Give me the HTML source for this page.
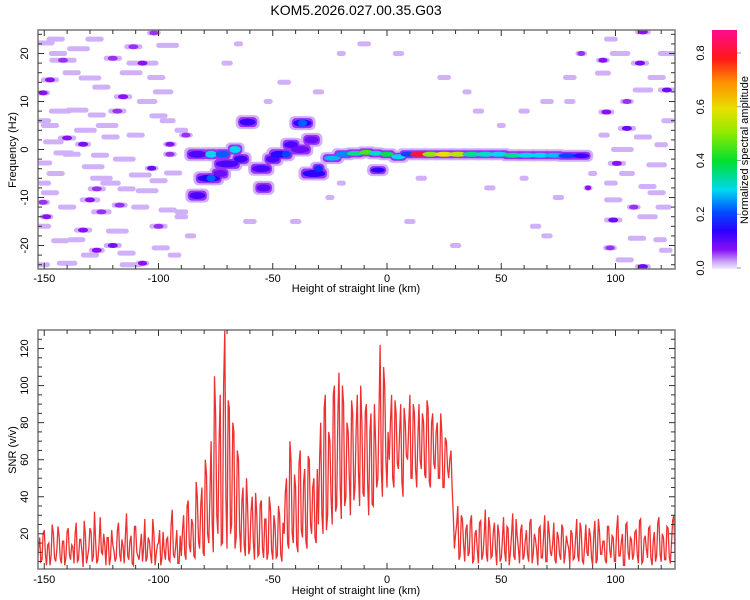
<!DOCTYPE html>
<html><head><meta charset="utf-8"><style>
html,body{margin:0;padding:0;background:#fff;}
svg{display:block;font-family:"Liberation Sans",sans-serif;}
</style></head><body>
<svg id="c" width="750" height="600" viewBox="0 0 750 600">
<defs>
<linearGradient id="cbg" x1="0" y1="1" x2="0" y2="0">
<stop offset="0" stop-color="#f2eafd"/><stop offset="0.03" stop-color="#c9a6f7"/><stop offset="0.08" stop-color="#8a10f6"/>
<stop offset="0.16" stop-color="#2a00ff"/><stop offset="0.24" stop-color="#0050ff"/><stop offset="0.33" stop-color="#00d8f0"/>
<stop offset="0.45" stop-color="#00e030"/><stop offset="0.57" stop-color="#90ea00"/><stop offset="0.67" stop-color="#e8e000"/>
<stop offset="0.78" stop-color="#ff9000"/><stop offset="0.88" stop-color="#ff1818"/><stop offset="1" stop-color="#ff0a90"/>
</linearGradient>
</defs>
<text x="356" y="15" text-anchor="middle" font-size="14">KOM5.2026.027.00.35.G03</text>
<g id="heat"></g>
<g id="snr"></g>
<g id="axes"></g>
<rect x="712" y="30" width="25" height="239" fill="url(#cbg)"/>
<text transform="translate(748,150) rotate(-90)" text-anchor="middle" font-size="11">Normalized spectral amplitude</text>
<text x="356" y="292" text-anchor="middle" font-size="11">Height of straight line (km)</text>
<text x="356" y="594" text-anchor="middle" font-size="11">Height of straight line (km)</text>
<text transform="translate(16,150) rotate(-90)" text-anchor="middle" font-size="11">Frequency (Hz)</text>
<text transform="translate(16,450) rotate(-90)" text-anchor="middle" font-size="11">SNR (v/v)</text>
</svg>
<script>
// ---- data ----
const xTicks = [-150,-100,-50,0,50,100];
const freqTicks = [-20,-10,0,10,20];
const snrTicks = [20,40,60,80,100,120];
const cbTicks = [0.0,0.2,0.4,0.6,0.8];
const snrStartKm = -153;
const snrStepKm = 1;
// samples at whole km
const snrValues = [4,18,6,22,3,15,8,20,5,24,7,16,3,21,9,14,4,26,6,17,2,19,8,23,5,32,4,15,10,20,3,18,7,14,5,22,9,17,4,31,6,19,3,24,8,13,5,28,7,16,4,20,9,15,3,21,6,18,5,33,7,22,4,
8,30,6,38,10,25,7,40,12,45,8,52,15,
70,10,85,20,95,15,130,12,88,25,75,18,60,
10,45,8,35,12,40,6,30,9,38,7,28,10,33,6,25,8,30,5,
20,50,12,60,15,45,10,65,18,55,12,60,20,50,15,
25,80,20,95,30,70,25,100,35,107,28,90,40,75,30,85,45,95,35,80,40,90,30,85,35,70,
50,122,40,100,45,
60,95,45,85,55,90,40,80,60,95,50,85,45,90,55,80,50,88,45,85,55,80,50,75,45,70,50,65,
30,20,35,8,28,5,25,10,30,6,22,4,27,9,33,5,24,8,26,3,20,7,29,5,23,10,31,6,19,4,25,8,22,5,28,9,17,3,24,7,30,5,21,8,26,4,18,6,23,9,15,3,20,7,28,5,22,4,25,8,19,3,27,6,21,9,16,4,24,7,18,5,30,8,20,3,26,6,17,9,22,4,28,5,19,7,24,3,21,8,29,5,18,6,23,4,27,10];
// samples at half km
const snrValuesHalf = [12,5,20,9,14,3,25,7,11,19,4,16,8,23,6,13,20,5,17,10,27,4,12,21,8,15,6,29,9,14,18,3,22,11,7,26,5,13,19,8,16,4,24,10,6,20,12,5,18,9,28,3,14,22,7,11,17,6,25,9,13,4,19,
22,9,35,14,28,8,48,16,36,10,60,20,40,
25,105,30,70,14,100,40,92,20,80,12,65,22,
38,14,50,9,32,16,42,8,36,12,28,6,40,11,30,7,35,9,26,
42,15,70,20,52,14,58,22,48,16,62,25,45,18,55,
60,30,88,22,75,40,95,32,85,45,100,35,80,50,92,38,78,55,100,42,86,48,75,36,90,45,
85,55,110,60,75,
80,50,92,58,75,48,88,62,78,50,90,55,70,60,85,52,92,48,80,58,75,50,85,45,72,55,60,45,
12,25,6,30,15,22,8,27,4,20,11,26,6,18,9,29,7,21,12,25,5,17,10,24,3,19,8,28,12,22,6,16,9,26,4,20,11,23,7,18,5,27,10,15,6,21,9,25,4,19,12,22,6,17,8,26,5,14,10,23,7,20,4,28,9,16,6,24,11,19,5,22,8,15,3,25,10,18,6,21,9,27,4,17,12,23,7,16,5,26,9,20,6,24,8,15,30,12];
// noise blobs: km, Hz, width km, amplitude
const noiseKm  = [-150.5,-144,-141.8,-107,-111,-96,-102,-147.5,-130,-101,-150.5,-115.5,-98,-135.6,-127,-147.5,-122.5,-96,-140,-133,-146,-121,-95,-141.5,-125.6,-150.5,-128.6,-103,-108,-93.6,-121,-127,-105,-147.5,-130,-114,-150.5,-117,-96,-149,-133,-150.5,-120,-127,-107,-140,-114,-150.5,-136,-99,
112,110.7,122.5,102,122.5,112,96,105,112,103,100.6,118,105,114,99,121,99,114,109.4,97.6,112,119.5,94.5,94.5,
-60,-70,-45,-30,-10,5,10,25,30,60,70,80,85,88,75,50,40,-88,-90,-86,-52,-20,15,65,
-145,-135,-120,-112,-138,-125,-105,-143,-118,-100,-132,-110,-90,-138,-115,-95,-145,-125,-100,-140,-125,-108,-90,-143,-118,-100,-130,-112,-93,-150,-150,-128,
98,118,105,123,98,118,108,122,104,95,120,
-65,-20,45,60,70,35,-40,-25,80,90];
const noiseHz  = [22.2,20,18.6,18,21.4,21.7,24.3,14.5,14.9,15,11.8,11,12,8.2,7.2,5,5,6,2.4,1.1,1.6,2.6,1.1,-0.7,-1.2,-2.8,-3.6,-3.9,-5.3,-4.9,-7,-8.2,-8.6,-9,-10.5,-8.2,-11,-11.6,-12.6,-14,-16.8,-16,-20,-21,-23.7,-23.7,-21.6,-24,-18.8,-20.5,
24.5,18,20,20,12.4,12.4,7.8,4.4,2.6,0,-2.9,-3.2,-5,-7.7,-10.5,-12,-14.7,-14,-18.5,-20.5,-24.4,-18.8,15.9,18.6,
-15,18,14,12,22,20,-15,15,-20,8,10,15,20,-8,-10,5,8,3,-14,-18,10,-7,-6,-16,
23,21,19,16,16,13,10,8,8,7,4,3,4,-1,-2,-1,-5,-6,-6.5,-12,-13,-12,-13,-19,-17,-16,-22,-24,-22,-7,6,23,
23,15,10,6,-7,-9,-12,-21,-23,3,1,
22,20,-8,-6,-18,12,-15,-10,10,-5];
const noiseW   = [10,8,12,14,8,10,6,8,10,8,6,8,9,10,8,8,10,7,8,7,9,8,6,9,8,8,10,6,10,8,9,8,10,8,9,8,6,7,8,6,8,7,8,7,6,9,8,6,8,8,
7,8,8,9,8,9,7,8,8,10,8,9,7,8,8,7,8,9,8,6,7,6,7,6,
6,5,6,5,6,5,5,6,5,5,6,6,5,4,5,4,5,6,6,5,4,4,5,5,
8,10,8,10,8,8,9,10,8,8,10,8,6,8,10,6,8,10,8,8,9,8,6,8,10,8,8,10,6,6,6,8,
6,8,6,6,6,8,6,6,8,5,6,
4,4,5,4,5,4,5,4,5,4];
const noiseAmp = [0.03,0.03,0.05,0.06,0.05,0.03,0.05,0.06,0.03,0.03,0.06,0.06,0.03,0.03,0.03,0.03,0.03,0.03,0.06,0.07,0.03,0.03,0.06,0.03,0.03,0.03,0.03,0.08,0.03,0.03,0.03,0.05,0.03,0.03,0.06,0.03,0.05,0.05,0.03,0.06,0.06,0.03,0.07,0.06,0.06,0.03,0.03,0.03,0.03,0.03,
0.06,0.07,0.03,0.03,0.08,0.03,0.06,0.08,0.03,0.03,0.06,0.03,0.03,0.03,0.03,0.03,0.08,0.03,0.03,0.05,0.08,0.03,0.03,0.06,
0.03,0.03,0.03,0.03,0.03,0.03,0.03,0.03,0.03,0.03,0.03,0.03,0.05,0.06,0.03,0.03,0.03,0.05,0.03,0.03,0.03,0.03,0.03,0.03,
0.03,0.03,0.05,0.03,0.03,0.03,0.03,0.03,0.05,0.03,0.03,0.03,0.03,0.03,0.03,0.05,0.03,0.03,0.03,0.03,0.05,0.03,0.03,0.03,0.03,0.05,0.03,0.03,0.03,0.03,0.03,0.03,
0.03,0.03,0.05,0.03,0.03,0.03,0.05,0.03,0.03,0.03,0.03,
0.03,0.03,0.03,0.03,0.03,0.03,0.03,0.03,0.03,0.03];
// signal blobs
const sigKm  = [-83,-77,-72,-66.5,-70,-64,-78,-77,-83,-73,-61,-54,-55,-50,-47,-44,-42,-37,-37,-33,-38,-32,-30,
-24,-19,-14,-9,-5,-4,0,5,9,14,19,25,31,37,43,49,55,61,67,73,79,85];
const sigHz  = [-1,-1,-1,0,-3,-2,-6,-6,-9.6,-5,5.7,-8,-4,-2,-1,-1,1,5.5,5.5,2,0,-5,-4,
-1.8,-1,-0.8,-0.6,-0.8,-4.3,-1,-1.5,-1,-1,-1,-1,-1,-1,-1,-1,-1.2,-1.2,-1.2,-1.2,-1.3,-1.3];
const sigW   = [8,5,6,5,10,6,10,4,7,6,7,6,8,6,8,4,6,8,4,6,8,10,4,
7,7,7,6,6,6,6,6,6,8,7,8,8,8,8,8,8,8,8,8,8,7];
const sigAmp = [0.12,0.3,0.22,0.3,0.12,0.13,0.14,0.22,0.12,0.1,0.13,0.11,0.12,0.12,0.15,0.2,0.12,0.15,0.22,0.1,0.1,0.14,0.18,
0.28,0.25,0.35,0.45,0.32,0.14,0.38,0.3,0.2,0.82,0.5,0.6,0.55,0.35,0.32,0.3,0.35,0.3,0.3,0.28,0.2,0.13];

// ---- scales ----
const NS='http://www.w3.org/2000/svg';
const L=38,R=675,T1=30,B1=269,T2=330,B2=569;
const xS=v=>387+2.285*v;
const fS=v=>149.5-4.8*v;
const sS=v=>B2-(v-1)*(B2-T2)/129;
const cbS=v=>268-v*(215/0.8);
function mk(tag,at,parent){const e=document.createElementNS(NS,tag);for(const k in at)e.setAttribute(k,at[k]);parent.appendChild(e);return e;}
const stops=[[0,[242,234,253]],[0.03,[208,176,248]],[0.08,[138,16,246]],[0.14,[42,0,255]],[0.21,[0,80,255]],[0.3,[0,216,240]],[0.4,[0,224,48]],[0.5,[144,234,0]],[0.6,[232,224,0]],[0.7,[255,144,0]],[0.8,[255,24,24]],[0.9,[255,10,144]]];
function cmap(a){for(let i=1;i<stops.length;i++){if(a<=stops[i][0]){const [a0,c0]=stops[i-1],[a1,c1]=stops[i];const t=(a-a0)/(a1-a0);return 'rgb('+c0.map((c,j)=>Math.round(c+(c1[j]-c)*t)).join(',')+')';}}return 'rgb(255,10,144)';}

const svg=document.getElementById('c');
const heat=document.getElementById('heat');
const clip=mk('clipPath',{id:'cp1'},svg.querySelector('defs'));
mk('rect',{x:L,y:T1,width:R-L,height:B1-T1},clip);
heat.setAttribute('clip-path','url(#cp1)');
const halos=mk('g',{},heat),edges=mk('g',{},heat),cores=mk('g',{},heat);
function noiseBlob(km,hz,w,amp){
  const cx=xS(km),cy=fS(hz),pw=w*2.285;
  let e=mk('rect',{x:cx-pw/2,y:cy-2.5,width:pw,height:5,rx:2.5,fill:cmap(0.03)},halos);
  
  
  if(amp>0.04){
    e=mk('ellipse',{cx:cx,cy:cy,rx:Math.min(pw/3,5),ry:2.5,fill:cmap(amp+0.02)},cores);
    
    
  }
}
function sigBlob(km,hz,w,amp,h){
  const cx=xS(km),cy=fS(hz),pw=w*2.285;
  let e=mk('rect',{x:cx-pw/2-4,y:cy-h/2-3,width:pw+8,height:h+6,rx:5,fill:cmap(0.03)},halos);
  
  
  e=mk('rect',{x:cx-pw/2-1.5,y:cy-h/2-1,width:pw+3,height:h+2,rx:4,fill:cmap(0.07)},edges);
  
  
  e=mk('ellipse',{cx:cx,cy:cy,rx:pw/2,ry:h/2-0.5,fill:cmap(amp)},cores);
  
  
}
for(let i=0;i<noiseKm.length;i++) noiseBlob(noiseKm[i],noiseHz[i],noiseW[i],noiseAmp[i]);
for(let i=0;i<sigKm.length;i++) sigBlob(sigKm[i],sigHz[i],sigW[i],sigAmp[i],sigKm[i]>-26?6:8);

// SNR line
const snr=document.getElementById('snr');
const clip2=mk('clipPath',{id:'cp2'},svg.querySelector('defs'));
mk('rect',{x:L,y:T2,width:R-L,height:B2-T2},clip2);
let d='';
snrValues.forEach((v,i)=>{
  const x=xS(snrStartKm+i*snrStepKm);
  d+=(i?'L':'M')+x.toFixed(1)+','+sS(v).toFixed(1);
  if(i<snrValuesHalf.length){const x2=xS(snrStartKm+(i+0.5)*snrStepKm);d+='L'+x2.toFixed(1)+','+sS(snrValuesHalf[i]).toFixed(1);}
});
const ln=mk('path',{d:d,fill:'none',stroke:'#ee3030','stroke-width':1.3,'clip-path':'url(#cp2)'},snr);



// axes
const ax=document.getElementById('axes');
function frame(t,b){const e=mk('rect',{x:L,y:t,width:R-L,height:b-t,fill:'none',stroke:'#777','stroke-width':1.5},ax);
}
frame(T1,B1);frame(T2,B2);
function line(x1,y1,x2,y2,c){mk('line',{x1,y1,x2,y2,stroke:c||'#333','stroke-width':1},ax);}
function txt(x,y,s,anchor,rot){const e=mk('text',{x,y,'font-size':11,'text-anchor':anchor||'middle'},ax);
if(rot)e.setAttribute('transform','rotate(-90 '+x+' '+y+')');e.textContent=s;
return e;}
for(let v=-150;v<=120;v+=10){const x=xS(v);const big=v%50===0;const l=big?6:4;
 [[T1,B1],[T2,B2]].forEach(([t,b])=>{line(x,t,x,t+l);line(x,b,x,b-l);});}
xTicks.forEach(v=>{txt(xS(v),282,String(v));txt(xS(v),583,String(v));});
for(let v=-24;v<=24;v+=2){const y=fS(v);const l=v%10===0?6:4;line(L,y,L+l,y);line(R,y,R-l,y);}
freqTicks.forEach(v=>txt(28,fS(v),String(v),'middle',true));
for(let v=5;v<=125;v+=5){const y=sS(v);const l=v%20===0?6:4;line(L,y,L+l,y);line(R,y,R-l,y);}
snrTicks.forEach(v=>txt(28,sS(v),String(v),'middle',true));
cbTicks.forEach(v=>{txt(704,cbS(v),v.toFixed(1),'middle',true);line(737,cbS(v),741,cbS(v),'#999');});
</script>
</body></html>
